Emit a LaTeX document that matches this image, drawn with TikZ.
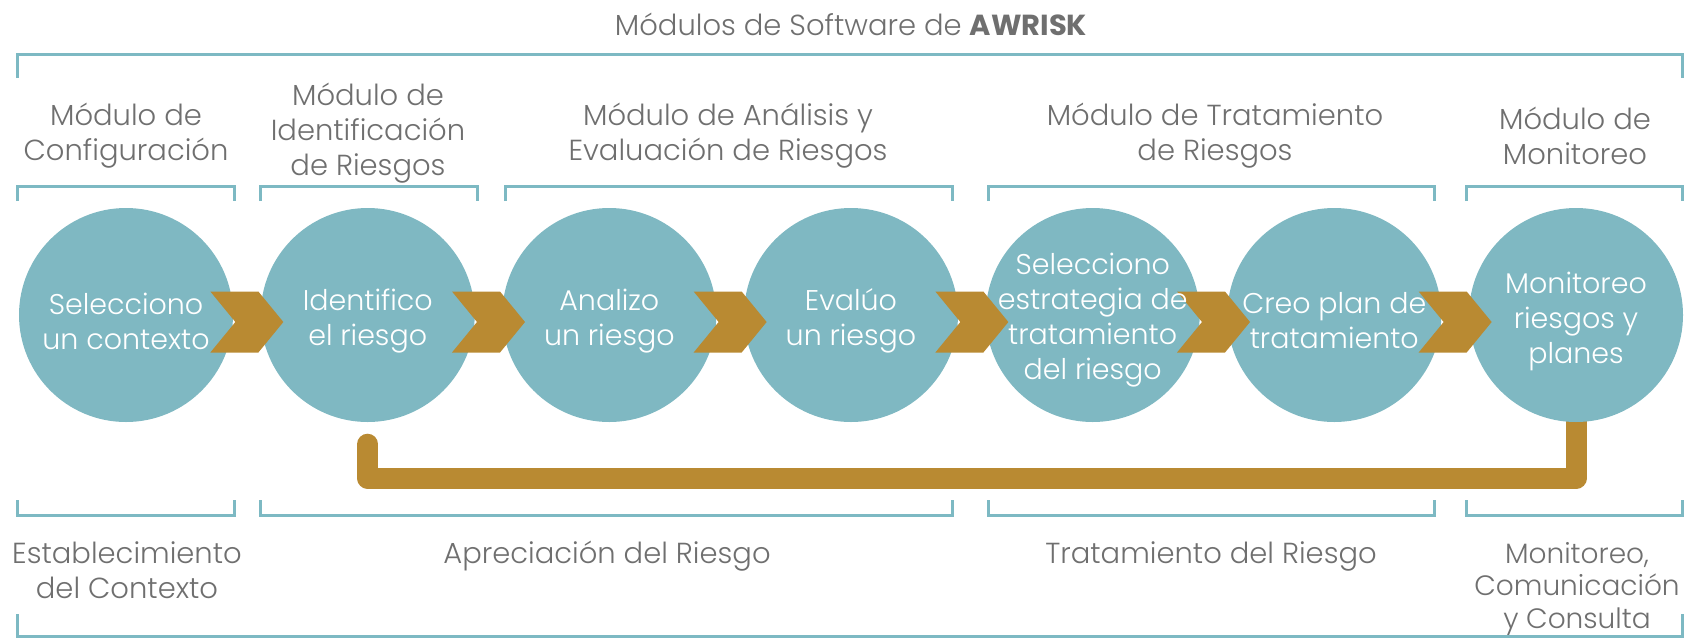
\documentclass[tikz,border=0pt]{standalone}
\usepackage{fontspec}
\setmainfont{Poppins}[UprightFont=* Light, BoldFont=* Bold]
\usetikzlibrary{calc}
\definecolor{tealc}{HTML}{7FB8C2}
\definecolor{brk}{HTML}{7DB9C3}
\definecolor{goldc}{HTML}{B98A32}
\definecolor{txt}{HTML}{6F6F6F}
\pgfdeclarelayer{bg}
\pgfsetlayers{bg,main}
\begin{document}
\begin{tikzpicture}[x=1pt,y=-1pt,
  lbl/.style={text=txt, align=center, inner sep=0, font=\fontsize{29}{35}\selectfont},
  ctxt/.style={text=white, align=center, inner sep=0, font=\fontsize{28.5}{35}\selectfont},
  circ/.style={circle, fill=tealc, minimum size=214pt, inner sep=0},
  brkt/.style={draw=brk, line width=3pt},
  feedback/.style={draw=goldc, line width=21pt, line join=round, line cap=round},
  chevron/.pic={\fill[goldc] (-36.5,-30.5) -- (11.5,-30.5) -- (36.5,0) -- (11.5,30.5) -- (-36.5,30.5) -- (-11.5,0) -- cycle;}
]
\useasboundingbox (0,0) rectangle (1684,638);

% title and top brackets
\node[lbl] (title) at (851,24) {Módulos de Software de \textbf{AWRISK}};
\draw[brkt] (17,78) |- (1682,54) -- (1682,78);

\node[lbl] (m1) at (126,136) {Módulo de\\Configuración};
\node[lbl] (m2) at (368,133.5) {Módulo de\\Identificación\\de Riesgos};
\node[lbl] (m3) at (728,136) {Módulo de Análisis y\\Evaluación de Riesgos};
\node[lbl] (m4) at (1215,136) {Módulo de Tratamiento\\de Riesgos};
\node[lbl] (m5) at (1575,136) {Módulo de\\Monitoreo};

\draw[brkt] (17,201) |- (234,186) -- (234,201);
\draw[brkt] (260,201) |- (477,186) -- (477,201);
\draw[brkt] (505,201) |- (952,186) -- (952,201);
\draw[brkt] (988,201) |- (1434,186) -- (1434,201);
\draw[brkt] (1466,201) |- (1682,186) -- (1682,201);

% circles
\node[circ] (c1) at (126,315) {};
\node[circ] (c2) at (367.7,315) {};
\node[circ] (c3) at (609.3,315) {};
\node[circ] (c4) at (851,315) {};
\node[circ] (c5) at (1092.7,315) {};
\node[circ] (c6) at (1334.3,315) {};
\node[circ] (c7) at (1576,315) {};

% feedback loop
\begin{pgfonlayer}{bg}
\draw[feedback] ($(c2.south)+(0,22)$) |- ($(c7.south)+(0,56)$) -- (c7.center);
\end{pgfonlayer}

% chevrons
\foreach \a/\b in {c1/c2,c2/c3,c3/c4,c4/c5,c5/c6,c6/c7}
  \pic at ($(\a)!0.5!(\b)+(0,7)$) {chevron};

% circle texts
\node[ctxt] (t1) at ($(c1)+(0,6)$) {Selecciono\\un contexto};
\node[ctxt] (t2) at ($(c2)+(0,6)$) {Identifico\\el riesgo};
\node[ctxt] (t3) at ($(c3)+(0,6)$) {Analizo\\un riesgo};
\node[ctxt] (t4) at ($(c4)+(0,6)$) {Evalúo\\un riesgo};
\node[ctxt] (t5) at ($(c5)+(0,5)$) {Selecciono\\estrategia de\\tratamiento\\del riesgo};
\node[ctxt] (t6) at ($(c6)+(0,6)$) {Creo plan de\\tratamiento};
\node[ctxt] (t7) at ($(c7)+(0,6)$) {Monitoreo\\riesgos y\\planes};

% bottom brackets
\draw[brkt] (17,500) |- (234,515) -- (234,500);
\draw[brkt] (260,500) |- (952,515) -- (952,500);
\draw[brkt] (988,500) |- (1434,515) -- (1434,500);
\draw[brkt] (1466,500) |- (1682,515) -- (1682,500);

\node[lbl, anchor=north] (b1) at (127,541) {Establecimiento\\del Contexto};
\node[lbl, anchor=north] (b2) at (607,541) {Apreciación del Riesgo};
\node[lbl, anchor=north] (b3) at (1211,541) {Tratamiento del Riesgo};
\node[lbl, anchor=north, font=\fontsize{28}{32.5}\selectfont] (b4) at (1577,542) {Monitoreo,\\Comunicación\\y Consulta};

\draw[brkt] (17,614) |- (1682,636) -- (1682,614);
\end{tikzpicture}
\end{document}
